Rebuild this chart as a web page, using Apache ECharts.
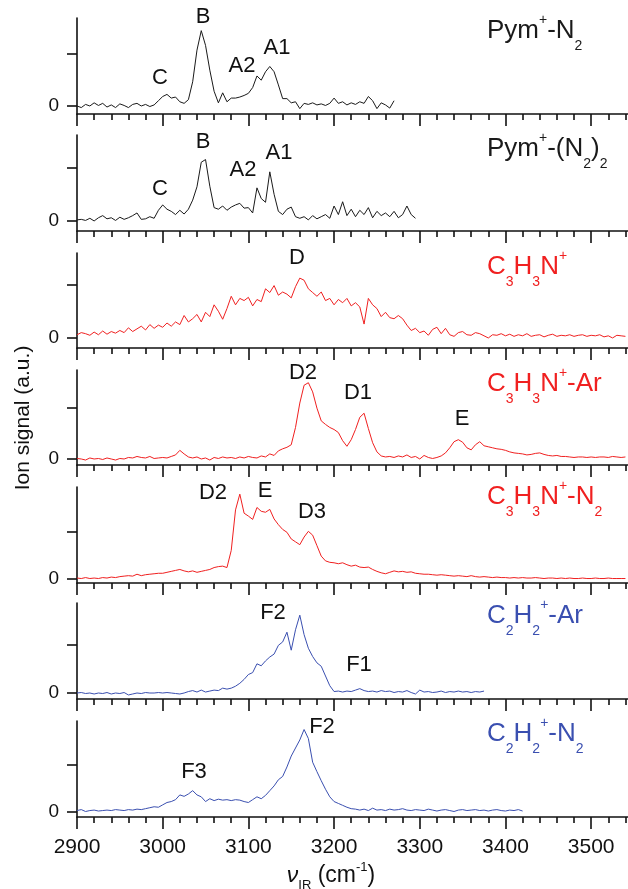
<!DOCTYPE html>
<html>
<head>
<meta charset="utf-8">
<script src="https://cdn.jsdelivr.net/npm/echarts@6/dist/echarts.min.js"></script>
<style>
  html, body { margin: 0; padding: 0; background: #fff; }
  #chart { width: 628px; height: 889px; }
</style>
</head>
<body>
<div id="chart"></div>
<script>
// spectra, sampled every 5 cm-1 from 2900; y in units of the unlabelled tick
const xStart = 2900;
const xStep = 5;
const xTickLabels = [2900, 3000, 3100, 3200, 3300, 3400, 3500];

const pymN2 = [
  0.00, -0.03, 0.03, 0.00, 0.06, 0.01, 0.05, -0.02, 0.02, -0.03,
  0.04, 0.01, -0.03, 0.03, 0.05, 0.00, 0.03, -0.01, 0.02, 0.10,
  0.18, 0.22, 0.15, 0.17, 0.08, 0.05, 0.12, 0.46, 1.06, 1.43,
  1.15, 0.68, 0.28, 0.06, 0.25, 0.08, 0.15, 0.15, 0.17, 0.20,
  0.24, 0.35, 0.57, 0.49, 0.65, 0.75, 0.65, 0.40, 0.14, 0.14,
  0.06, 0.08, -0.05, 0.05, 0.03, 0.06, 0.02, 0.04, 0.01, 0.05,
  0.15, 0.05, 0.08, 0.02, 0.06, 0.03, 0.08, 0.05, 0.18, 0.10,
  -0.05, 0.06, 0.02, -0.04, 0.10
];
const pymN2x2 = [
  0.02, 0.03, 0.01, 0.05, 0.00, 0.06, 0.10, 0.04, 0.06, 0.01,
  0.07, 0.03, 0.06, 0.10, 0.15, 0.03, 0.04, 0.08, 0.05, 0.20,
  0.30, 0.22, 0.18, 0.12, 0.20, 0.13, 0.22, 0.39, 0.64, 1.10,
  1.15, 0.65, 0.25, 0.22, 0.28, 0.20, 0.26, 0.30, 0.33, 0.24,
  0.25, 0.15, 0.62, 0.42, 0.35, 0.92, 0.50, 0.18, 0.12, 0.22,
  0.26, 0.08, 0.05, 0.08, 0.02, 0.10, 0.04, 0.08, 0.12, 0.05,
  0.28, 0.12, 0.36, 0.10, 0.22, 0.08, 0.20, 0.12, 0.25, 0.06,
  0.18, 0.10, 0.15, 0.08, 0.18, 0.06, 0.12, 0.28, 0.12, 0.05
];
const c3h3n = [
  0.06, 0.10, 0.08, 0.05, 0.11, 0.06, 0.13, 0.07, 0.12, 0.09,
  0.14, 0.10, 0.19, 0.12, 0.17, 0.22, 0.15, 0.25, 0.18, 0.24,
  0.20, 0.28, 0.22, 0.30, 0.25, 0.42, 0.30, 0.36, 0.44, 0.30,
  0.48, 0.40, 0.62, 0.50, 0.35, 0.55, 0.78, 0.62, 0.74, 0.70,
  0.76, 0.60, 0.72, 0.68, 0.92, 0.85, 0.98, 0.80, 0.86, 0.82,
  0.75, 0.96, 1.12, 1.08, 0.92, 0.85, 0.78, 0.86, 0.70, 0.74,
  0.62, 0.72, 0.66, 0.74, 0.60, 0.66, 0.58, 0.26, 0.74, 0.62,
  0.55, 0.40, 0.48, 0.38, 0.36, 0.42, 0.36, 0.24, 0.14, 0.18,
  0.10, 0.13, 0.05, 0.16, 0.20, 0.08, 0.18, 0.06, 0.03, 0.10,
  0.12, 0.06, 0.05, 0.10, 0.08, 0.04, 0.00, 0.06, 0.05, 0.08,
  0.04, 0.07, 0.03, 0.06, 0.04, 0.08, 0.03, 0.05, 0.06, 0.02,
  0.05, 0.07, 0.03, 0.05, 0.04, 0.06, 0.03, 0.05, 0.06, 0.03,
  0.05, 0.04, 0.06, 0.02, 0.04, 0.00, 0.05, 0.04, 0.03
];
const c3h3nAr = [
  0.01, 0.00, -0.02, 0.02, 0.00, 0.01, -0.01, 0.02, 0.00, -0.02,
  0.01, 0.00, 0.03, 0.02, 0.05, 0.03, 0.02, 0.05, 0.01, 0.02,
  0.03, 0.02, 0.05, 0.08, 0.17, 0.10, 0.04, 0.02, 0.04, 0.00,
  0.02, -0.02, 0.03, 0.01, 0.04, 0.02, 0.03, 0.01, 0.04, 0.02,
  0.05, 0.03, 0.02, 0.06, 0.04, 0.10, 0.07, 0.16, 0.20, 0.23,
  0.28, 0.62, 1.10, 1.45, 1.50, 1.32, 1.00, 0.75, 0.68, 0.62,
  0.58, 0.52, 0.36, 0.25, 0.38, 0.58, 0.82, 0.90, 0.60, 0.32,
  0.14, 0.06, 0.04, 0.05, 0.03, 0.06, 0.04, 0.08, 0.03, 0.05,
  0.00, 0.07, 0.03, 0.01, 0.03, 0.06, 0.12, 0.22, 0.34, 0.38,
  0.33, 0.22, 0.18, 0.28, 0.34, 0.26, 0.24, 0.22, 0.20, 0.19,
  0.17, 0.14, 0.12, 0.11, 0.10, 0.08, 0.09, 0.11, 0.12, 0.09,
  0.07, 0.06, 0.07, 0.05, 0.05, 0.04, 0.03, 0.04, 0.04, 0.03,
  0.04, 0.03, 0.04, 0.04, 0.03, 0.05, 0.04, 0.03, 0.04
];
const c3h3nN2 = [
  0.02, 0.01, 0.03, 0.01, 0.02, 0.01, 0.03, 0.02, 0.04, 0.03,
  0.05, 0.06, 0.07, 0.06, 0.10, 0.07, 0.09, 0.10, 0.11, 0.12,
  0.12, 0.14, 0.16, 0.18, 0.20, 0.17, 0.15, 0.17, 0.14, 0.16,
  0.18, 0.20, 0.24, 0.26, 0.27, 0.24, 0.60, 1.45, 1.78, 1.38,
  1.32, 1.25, 1.50, 1.42, 1.40, 1.46, 1.26, 1.14, 1.04, 0.98,
  0.84, 0.78, 0.72, 0.88, 1.00, 0.92, 0.70, 0.48, 0.38, 0.35,
  0.34, 0.32, 0.34, 0.30, 0.27, 0.29, 0.25, 0.24, 0.25, 0.20,
  0.16, 0.13, 0.11, 0.14, 0.17, 0.15, 0.16, 0.14, 0.15, 0.12,
  0.11, 0.10, 0.10, 0.09, 0.08, 0.09, 0.08, 0.07, 0.06, 0.07,
  0.06, 0.05, 0.07, 0.05, 0.04, 0.05, 0.04, 0.03, 0.04, 0.03,
  0.03, 0.02, 0.03, 0.02, 0.03, 0.02, 0.02, 0.03, 0.02, 0.01,
  0.02, 0.02, 0.01, 0.02, 0.01, 0.02, 0.01, 0.01, 0.02, 0.01,
  0.01, 0.02, 0.01, 0.01, 0.02, 0.01, 0.01, 0.01, 0.01
];
const c2h2Ar = [
  0.00, 0.01, -0.01, 0.00, -0.02, 0.00, -0.01, 0.01, -0.02, 0.00,
  -0.01, 0.01, -0.04, -0.02, 0.00, -0.01, 0.01, 0.00, 0.00, 0.01,
  0.00, 0.01, 0.00, -0.01, -0.02, 0.00, 0.03, 0.05, 0.02, 0.06,
  0.02, 0.04, 0.06, 0.05, 0.10, 0.08, 0.10, 0.14, 0.20, 0.28,
  0.38, 0.42, 0.60, 0.56, 0.66, 0.74, 0.80, 0.98, 1.05, 1.25,
  0.88, 1.30, 1.60, 1.20, 0.92, 0.75, 0.62, 0.55, 0.35, 0.15,
  0.03, 0.04, 0.02, 0.04, 0.03, 0.06, 0.09, 0.05, 0.03, 0.04,
  0.02, 0.05, 0.03, 0.04, 0.01, 0.03, 0.02, 0.05, 0.01, -0.02,
  0.06, 0.02, 0.03, 0.01, 0.02, 0.04, 0.01, 0.03, 0.02, 0.04,
  0.02, 0.03, 0.01, 0.03, 0.02, 0.04
];
const c2h2N2 = [
  0.03, 0.05, 0.01, 0.03, 0.04, 0.02, 0.03, 0.04, 0.03, 0.05,
  0.04, 0.03, 0.05, 0.04, 0.06, 0.05, 0.07, 0.09, 0.11, 0.10,
  0.15, 0.20, 0.22, 0.26, 0.36, 0.33, 0.38, 0.45, 0.36, 0.32,
  0.22, 0.28, 0.24, 0.27, 0.25, 0.26, 0.24, 0.26, 0.25, 0.22,
  0.20, 0.26, 0.32, 0.28, 0.35, 0.45, 0.55, 0.68, 0.75, 0.95,
  1.18, 1.35, 1.52, 1.74, 1.55, 1.05, 0.85, 0.66, 0.48, 0.32,
  0.22, 0.18, 0.14, 0.10, 0.07, 0.06, 0.04, 0.06, 0.03, 0.08,
  0.04, 0.05, 0.03, 0.06, 0.04, 0.05, 0.07, 0.04, 0.03, 0.05,
  0.04, 0.03, 0.06, 0.04, 0.02, 0.04, 0.05, 0.03, 0.01, 0.04,
  0.05, 0.03, 0.04, 0.05, 0.03, 0.04, 0.02, 0.04, 0.05, 0.03,
  0.02, 0.04, 0.03, 0.05, 0.02
];

const FONT = '"Liberation Sans", Arial, sans-serif';
const BLACK = '#1a1a1a';
const RED = '#f02020';
const BLUE = '#3a4fb0';

// panel layout: grid top/height and y range (tick 1 = unlabelled tick)
const panels = [
  { data: pymN2,   color: BLACK, top: 18,  height: 96, min: -0.152, max: 1.67 },
  { data: pymN2x2, color: BLACK, top: 135, height: 96, min: -0.188, max: 1.61 },
  { data: c3h3n,   color: RED,   top: 253, height: 95, min: -0.188, max: 1.59 },
  { data: c3h3nAr, color: RED,   top: 370, height: 95, min: -0.118, max: 1.75 },
  { data: c3h3nN2, color: RED,   top: 487, height: 96, min: -0.084, max: 1.93 },
  { data: c2h2Ar,  color: BLUE,  top: 603, height: 96, min: -0.123, max: 1.85 },
  { data: c2h2N2,  color: BLUE,  top: 721, height: 96, min: -0.106, max: 1.92 }
];

const titles = [
  { text: '{m|Pym}{p|+}{m|-N}{s|2}', color: BLACK, y: 22 },
  { text: '{m|Pym}{p|+}{m|-(N}{s|2}{m|)}{s|2}', color: BLACK, y: 140 },
  { text: '{m|C}{s|3}{m|H}{s|3}{m|N}{p|+}', color: RED, y: 258 },
  { text: '{m|C}{s|3}{m|H}{s|3}{m|N}{p|+}{m|-Ar}', color: RED, y: 375 },
  { text: '{m|C}{s|3}{m|H}{s|3}{m|N}{p|+}{m|-N}{s|2}', color: RED, y: 488 },
  { text: '{m|C}{s|2}{m|H}{s|2}{p|+}{m|-Ar}', color: BLUE, y: 607 },
  { text: '{m|C}{s|2}{m|H}{s|2}{p|+}{m|-N}{s|2}', color: BLUE, y: 725 }
];

// peak labels: [text, x center, y center]
const peakLabels = [
  ['C', 160, 78], ['B', 203, 17], ['A2', 242, 66], ['A1', 277, 48],
  ['C', 160, 189], ['B', 203, 142], ['A2', 243, 170], ['A1', 279, 153],
  ['D', 297, 258],
  ['D2', 303, 373], ['D1', 358, 393], ['E', 462, 419],
  ['D2', 213, 493], ['E', 265, 491], ['D3', 312, 512],
  ['F2', 273, 613], ['F1', 359, 665],
  ['F3', 194, 772], ['F2', 322, 727]
];

const X_MIN = 2900, X_MAX = 3543;
const minorTicks = [];
xTickLabels.forEach(function (t) {
  for (let k = 20; k < 100; k += 20) {
    if (t + k <= X_MAX) minorTicks.push(t + k);
  }
});

function richStyles(color) {
  return {
    m: { fontSize: 26, fontFamily: FONT, fill: color, verticalAlign: 'top', height: 30 },
    s: { fontSize: 14, fontFamily: FONT, fill: color, verticalAlign: 'top', height: 61 },
    p: { fontSize: 14, fontFamily: FONT, fill: color, verticalAlign: 'top', height: 8 }
  };
}

const grids = [], xAxes = [], yAxes = [], series = [];
panels.forEach(function (p, i) {
  const last = i === panels.length - 1;
  grids.push({ left: 77, right: 0, top: p.top, height: p.height });
  xAxes.push({
    type: 'value', gridIndex: i, position: 'bottom', min: X_MIN, max: X_MAX,
    axisLine: { show: true, onZero: false, lineStyle: { color: '#111', width: 1.6 } },
    axisTick: { show: true, inside: false, length: 12, customValues: xTickLabels,
                lineStyle: { color: '#111', width: 1.6 } },
    axisLabel: { show: last, customValues: xTickLabels, fontSize: 21, color: '#111',
                 fontFamily: FONT, margin: 20,
                 formatter: function (v) { return String(v); } },
    splitLine: { show: false }
  });
  xAxes.push({
    type: 'value', gridIndex: i, position: 'bottom', min: X_MIN, max: X_MAX,
    axisLine: { show: false, onZero: false },
    axisTick: { show: true, inside: false, length: 6, customValues: minorTicks,
                lineStyle: { color: '#111', width: 1.6 } },
    axisLabel: { show: false },
    splitLine: { show: false }
  });
  yAxes.push({
    type: 'value', gridIndex: i, min: p.min, max: p.max,
    axisLine: { show: true, lineStyle: { color: '#111', width: 1.6 } },
    axisTick: { show: true, inside: false, length: 10, customValues: [0, 1],
                lineStyle: { color: '#111', width: 1.6 } },
    axisLabel: { show: true, customValues: [0], fontSize: 19, color: '#111',
                 fontFamily: FONT, margin: 18 },
    splitLine: { show: false }
  });
  series.push({
    type: 'line', xAxisIndex: 2 * i, yAxisIndex: i,
    showSymbol: false, animation: false,
    lineStyle: { color: p.color, width: 1 },
    itemStyle: { color: p.color },
    data: p.data.map(function (v, k) { return [xStart + k * xStep, v]; })
  });
});

const graphics = [];
titles.forEach(function (t) {
  graphics.push({
    type: 'text', x: 487, y: t.y - 6,
    style: { text: t.text, rich: richStyles(t.color), fill: t.color,
             align: 'left', verticalAlign: 'top' }
  });
});
peakLabels.forEach(function (l) {
  graphics.push({
    type: 'text', x: l[1], y: l[2],
    style: { text: l[0], fill: '#111', font: '22px ' + FONT,
             align: 'center', verticalAlign: 'middle' }
  });
});
graphics.push({
  type: 'text', x: 23, y: 418, rotation: Math.PI / 2,
  style: { text: 'Ion signal (a.u.)', fill: '#111', font: '21px ' + FONT,
           align: 'center', verticalAlign: 'middle' }
});
graphics.push({
  type: 'text', x: 331, y: 863,
  style: {
    text: '{i|ν}{s|IR}{m| (cm}{p|-1}{m|)}',
    align: 'center', verticalAlign: 'top', fill: '#111',
    rich: {
      i: { fontSize: 23, fontStyle: 'italic', fontFamily: FONT, fill: '#111', verticalAlign: 'top', height: 26 },
      m: { fontSize: 23, fontFamily: FONT, fill: '#111', verticalAlign: 'top', height: 26 },
      s: { fontSize: 13, fontFamily: FONT, fill: '#111', verticalAlign: 'top', height: 44 },
      p: { fontSize: 13, fontFamily: FONT, fill: '#111', verticalAlign: 'top', height: 8 }
    }
  }
});

const chart = echarts.init(document.getElementById('chart'), null, { renderer: 'canvas' });
chart.setOption({
  backgroundColor: '#fff',
  animation: false,
  grid: grids,
  xAxis: xAxes,
  yAxis: yAxes,
  series: series,
  graphic: graphics
});
</script>
</body>
</html>
